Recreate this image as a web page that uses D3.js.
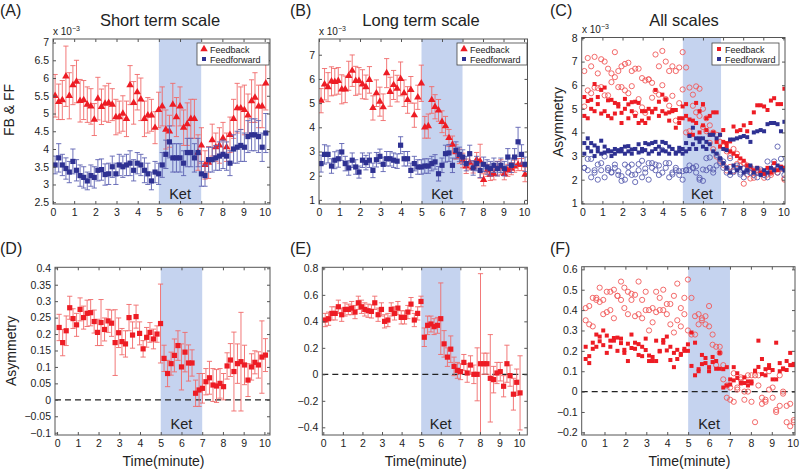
<!DOCTYPE html>
<html><head><meta charset="utf-8">
<script src="https://cdn.jsdelivr.net/npm/d3@7"></script>
<style>body{margin:0;background:#fff}svg{display:block;font-family:"Liberation Sans",Arial,sans-serif}</style>
</head><body><svg id="c" width="800" height="471"></svg>
<script>
// ---- time bins (minutes) ----
const times = [0.10,0.27,0.44,0.61,0.77,0.94,1.11,1.28,1.45,1.62,1.79,1.95,2.12,2.29,2.46,2.63,2.80,2.97,3.13,3.30,3.47,3.64,3.81,3.98,4.15,4.32,4.48,4.65,4.82,4.99,5.16,5.33,5.50,5.66,5.83,6.00,6.17,6.34,6.51,6.68,6.85,7.01,7.18,7.35,7.52,7.69,7.86,8.03,8.20,8.36,8.53,8.70,8.87,9.04,9.21,9.38,9.54,9.71,9.88,10.05];

// ---- (A) short term scale, x1e-3 ----
const aRed = [5.5,5.33,5.38,6.05,5.5,5.8, 5.9,5.36,5.38,5.25,5.2,4.83, 5.42,5.19,5.28,5.3,5.25,4.9, 4.9,5.0,4.85,5.8,5.3,5.6, 5.4,4.85,4.95,4.95,4.6,5.1, 5.2,4.55,4.5,5.25,4.9,5.2, 4.6,4.7,4.85,4.85,3.9,4.1, 3.55,3.62,4.25,4.05,4.1,4.3, 4.05,4.4,4.85,5.15,5.15,5.1, 4.95,5.35,5.45,5.2,5.2,5.85];
const aRedErr = [0.6,0.5,0.55,0.85,0.65,0.55, 0.6,0.6,0.55,0.5,0.5,0.45, 0.6,0.5,0.5,0.55,0.45,0.5, 0.45,0.5,0.5,0.55,0.6,0.5, 0.6,0.5,0.5,0.45,0.45,0.5, 0.55,0.55,0.45,0.6,0.55,0.55, 0.5,0.6,0.55,0.55,0.5,0.5, 0.4,0.45,0.45,0.4,0.5,0.45, 0.4,0.5,0.55,0.7,0.6,0.7, 0.6,0.6,0.7,0.6,0.6,0.75];
const aBlue = [3.55,3.75,3.55,3.45,3.35,3.65, 3.4,3.25,3.2,3.1,3.25,3.2, 3.4,3.42,3.28,3.3,3.5,3.3, 3.55,3.5,3.55,3.6,3.4,3.6, 3.55,3.4,3.3,3.1,3.35,3.3, 3.55,3.85,4.2,3.75,3.75,3.75, 3.6,3.9,3.9,3.75,3.9,3.3, 3.25,3.7,3.7,3.75,3.8,3.85, 3.8,3.6,4.0,4.05,4.1,4.05, 4.35,4.4,4.4,4.35,4.05,4.45];
const aBlueErr = [0.25,0.4,0.3,0.3,0.3,0.35, 0.3,0.3,0.3,0.25,0.3,0.3, 0.3,0.3,0.3,0.3,0.3,0.3, 0.3,0.3,0.3,0.35,0.3,0.3, 0.3,0.35,0.3,0.25,0.3,0.3, 0.35,0.4,0.45,0.4,0.4,0.4, 0.35,0.4,0.4,0.4,0.4,0.35, 0.3,0.35,0.35,0.35,0.4,0.4, 0.4,0.35,0.4,0.45,0.45,0.4, 0.45,0.45,0.45,0.45,0.4,0.55];

// ---- (B) long term scale, x1e-3 ----
const bRed = [5.1,5.78,5.66,5.9,5.88,5.92, 5.57,5.57,6.13,6.34,5.92,5.92, 5.78,5.66,5.96,4.8,5.41,5.06, 4.83,6.24,5.47,5.75,5.6,6.0, 5.41,5.13,5.55,4.5,5.24,5.82, 4.0,4.05,5.13,4.85,4.7,4.23, 4.05,3.56,3.29,2.98,2.8,2.63, 2.39,2.54,2.36,2.66,2.6,1.83, 2.22,2.05,2.08,2.29,2.36,2.08, 2.22,2.29,2.39,2.46,2.46,2.05];
const bRedErr = [0.5,0.65,0.6,0.6,0.55,0.55, 0.6,0.55,0.6,0.65,0.6,0.55, 0.6,0.5,0.55,0.5,0.55,0.6, 0.55,0.6,0.6,0.6,0.55,0.7, 0.55,0.55,0.55,0.5,0.5,0.75, 0.45,0.5,0.55,0.5,0.45,0.45, 0.4,0.35,0.35,0.3,0.3,0.3, 0.3,0.3,0.25,0.3,0.7,0.25, 0.25,0.25,0.25,0.3,0.3,0.25, 0.25,0.25,0.25,0.25,0.25,0.3];
const bBlue = [2.5,2.88,2.88,2.4,2.64,2.7, 2.98,2.5,2.32,2.64,2.36,2.15, 2.64,2.54,2.64,2.22,2.66,2.8, 2.47,2.7,2.7,2.64,2.6,3.26, 2.7,2.7,2.22,2.5,2.36,2.36, 2.4,2.4,2.5,2.57,2.08,2.43, 2.91,2.94,2.43,3.05,2.88,2.77, 2.5,2.91,2.32,2.5,2.22,2.47, 2.36,2.29,2.43,2.29,2.43,2.29, 2.77,2.43,2.77,3.4,2.88,2.47];
const bBlueErr = [0.35,0.4,0.35,0.3,0.35,0.35, 0.35,0.3,0.3,0.3,0.3,0.25, 0.3,0.3,0.3,0.3,0.3,0.3, 0.3,0.3,0.3,0.3,0.3,0.35, 0.3,0.3,0.3,0.3,0.3,0.3, 0.3,0.3,0.3,0.3,0.3,0.3, 0.35,0.35,0.3,0.35,0.3,0.3, 0.3,0.35,0.3,0.3,0.3,0.3, 0.3,0.3,0.3,0.3,0.3,0.3, 0.35,0.3,0.35,0.6,0.4,0.3];

// ---- (C) all scales, extra scales, x1e-3 ----
const cRedFilled2 = [4.7,4.6,5.0,4.9,5.2,4.8, 4.9,4.7,4.6,4.8,5.1,4.4, 5.0,4.6,4.9,4.7,4.4,4.5, 4.4,4.6,4.9,5.0,4.7,4.9, 4.8,4.5,4.9,4.2,4.4,4.6, 4.7,3.9,3.9,4.4,4.0,4.3, 4.1,3.9,4.0,3.6,3.4,3.6, 3.4,3.2,3.1,3.0,2.9,2.8, 2.6,2.55,2.4,2.5,2.3,2.25, 2.5,2.3,2.7,2.4,2.55,2.5];
const cRedOpenHi = [6.6,7.15,6.8,7.2,6.5,7.1, 7.0,6.7,6.5,7.4,6.6,6.8, 6.9,6.95,6.6,6.7,6.7,6.3, 6.2,6.25,6.1,7.3,6.8,7.45, 7.0,6.6,6.8,6.6,6.75,7.4, 6.75,5.9,5.6,5.95,5.85,5.0, 4.6,4.3,4.0,3.9,3.6,3.4, 3.2,3.0,3.3,3.1,2.8,2.7, 2.6,2.5,2.3,2.4,2.3,2.2, 2.4,2.2,2.6,2.3,2.5,2.0];
const cBlueFilled2 = [3.1,3.35,3.2,3.0,3.2,3.1, 3.15,3.2,3.0,3.3,3.2,3.3, 3.1,3.2,3.1,3.3,3.15,3.2, 3.25,3.1,3.2,3.3,3.1,3.25, 3.2,3.1,3.3,3.15,3.2,3.1, 3.2,3.3,3.5,3.3,3.6,3.4, 3.3,3.5,3.2,3.1,2.9,2.7, 2.5,2.3,2.6,2.4,2.5,2.3, 2.4,2.6,2.3,2.5,2.2,2.4, 2.3,2.5,2.4,2.6,2.5,2.4];
const cBlueOpenLo = [2.5,2.4,2.1,2.3,2.0,2.4, 2.1,2.4,2.3,2.5,2.2,1.95, 2.0,2.3,2.2,1.9,2.4,2.1, 2.3,2.0,2.5,2.4,2.2,2.3, 2.5,2.1,2.3,2.4,2.2,2.0, 2.4,2.6,2.5,2.3,2.0,1.95, 2.4,2.5,2.3,2.6,2.7,2.5, 2.3,2.2,2.4,2.6,2.3,2.1, 2.4,2.3,2.2,2.1,2.3,2.2, 2.1,2.4,2.6,2.3,2.5,2.2];

// ---- (D) short term asymmetry ----
const dAsym = [0.22,0.174,0.21,0.28,0.247,0.228, 0.275,0.25,0.263,0.265,0.238,0.205, 0.235,0.214,0.24,0.233,0.174,0.204, 0.177,0.17,0.25,0.197,0.253,0.202, 0.155,0.19,0.205,0.185,0.2,0.232, 0.126,0.08,0.11,0.135,0.165,0.1, 0.145,0.112,0.112,0.02,0.03,0.035, 0.055,0.067,0.045,0.042,0.05,0.04, 0.103,0.121,0.086,0.11,0.116,0.106, 0.06,0.1,0.114,0.106,0.13,0.136];
const dErr = [0.04,0.04,0.045,0.035,0.03,0.035, 0.035,0.035,0.04,0.04,0.035,0.04, 0.07,0.035,0.035,0.04,0.1,0.045, 0.04,0.04,0.04,0.04,0.035,0.035, 0.025,0.03,0.03,0.03,0.025,0.12, 0.04,0.04,0.035,0.05,0.045,0.07, 0.06,0.055,0.04,0.04,0.05,0.045, 0.04,0.05,0.05,0.05,0.045,0.04, 0.04,0.05,0.12,0.06,0.15,0.06, 0.05,0.04,0.035,0.04,0.11,0.05];

// ---- (E) long term asymmetry ----
const eAsym = [0.41,0.42,0.46,0.46,0.51,0.45, 0.49,0.49,0.5,0.47,0.54,0.51, 0.49,0.48,0.475,0.54,0.45,0.49, 0.4,0.41,0.49,0.46,0.5,0.43, 0.43,0.47,0.53,0.41,0.46,0.55, 0.28,0.37,0.38,0.36,0.37,0.42, 0.23,0.13,0.19,0.06,0.03,0.02, 0.09,0.01,0.07,0.0,0.0,0.08, 0.08,0.08,-0.03,-0.04,0.01,0.02, -0.09,0.08,-0.01,-0.15,-0.06,-0.14];
const eErr = [0.05,0.05,0.05,0.05,0.05,0.05, 0.05,0.04,0.05,0.05,0.05,0.05, 0.05,0.05,0.05,0.05,0.05,0.05, 0.05,0.05,0.05,0.05,0.05,0.05, 0.05,0.05,0.05,0.05,0.05,0.04, 0.07,0.07,0.06,0.06,0.06,0.27, 0.1,0.07,0.1,0.07,0.06,0.06, 0.06,0.07,0.07,0.07,0.2,0.68, 0.08,0.08,0.33,0.1,0.08,0.07, 0.08,0.14,0.08,0.12,0.1,0.28];

// ---- (F) all scales asymmetry, extra scales ----
const fFilled2 = [0.16,0.14,0.24,0.22,0.27,0.3, 0.19,0.22,0.25,0.2,0.26,0.19, 0.15,0.28,0.21,0.18,0.22,0.26, 0.15,0.15,0.15,0.2,0.24,0.27, 0.22,0.12,0.16,0.18,0.21,0.2, 0.29,0.24,0.1,0.18,0.14,0.12, 0.17,0.15,0.19,0.11,0.12,0.06, 0.12,0.09,0.04,0.07,0.03,0.05, 0.1,0.25,0.16,0.08,0.13,0.06, 0.24,0.14,0.11,0.15,0.19,0.13];
const fOpen2 = [0.35,0.33,0.32,0.45,0.44,0.38, 0.39,0.4,0.36,0.47,0.45,0.41, 0.38,0.45,0.37,0.38,0.36,0.4, 0.3,0.34,0.39,0.4,0.4,0.38, 0.33,0.29,0.35,0.32,0.38,0.3, 0.46,0.28,0.33,0.35,0.33,0.32, 0.28,0.22,0.22,0.13,-0.03,-0.04, -0.05,0.02,0.06,-0.04,0.08,-0.05, -0.15,0.03,-0.06,-0.05,0.1,-0.03, -0.1,-0.07,0.0,-0.07,-0.17,-0.15];

// ---- tick labels ----
const xTicks = [0,1,2,3,4,5,6,7,8,9,10];
const yTicksA = [2.5,3,3.5,4,4.5,5,5.5,6,6.5,7];
const yTicksB = [1,2,3,4,5,6,7];
const yTicksC = [1,2,3,4,5,6,7,8];
const yTicksD = [-0.1,-0.05,0,0.05,0.1,0.15,0.2,0.25,0.3,0.35,0.4];
const yTicksE = [-0.4,-0.2,0,0.2,0.4,0.6,0.8];
const yTicksF = [-0.2,-0.1,0,0.1,0.2,0.3,0.4,0.5,0.6];

// ---- styles ----
const RED = "#ed1c24", RED_ERR = "#f06a6a", RED_OPEN = "#f05a5a";
const BLUE = "#2e3192", BLUE_ERR = "#5e62b2", BLUE_OPEN = "#5a5fb0";
const SHADE = "#c5d3ef", FRAME = "#555", TXT = "#222";

const svg = d3.select("#c");
const fmt = d => String(+d.toFixed(2)).replace("-", "\u2212");

const legendFB = [{t:"Feedback", m:"tri", c:RED},{t:"Feedforward", m:"sq", c:BLUE}];
const legendC = [{t:"Feedback", m:"sq", c:RED},{t:"Feedforward", m:"sq", c:BLUE}];

const panels = [
  {id:"A", title:"Short term scale", tx:160, lx:0, ly:16, x:[53,270], y:[204,39], xd:[0,10.25], yd:[2.45,7.1], yt:yTicksA, shade:[5,7], ket:199, expo:[53,35],
   ylab:"FB & FF", ylx:14, yly:110, legend:{x:197,y:43,w:72,h:22,items:legendFB},
   series:[{v:aRed,e:aRedErr,c:RED,ec:RED_ERR,m:"tri"},{v:aBlue,e:aBlueErr,c:BLUE,ec:BLUE_ERR,m:"sq"}]},
  {id:"B", title:"Long term scale", tx:421, lx:290, ly:16, x:[319,527.5], y:[204,39], xd:[0,10.17], yd:[0.83,7.65], yt:yTicksB, shade:[5,7], ket:199, expo:[319,35],
   legend:{x:457,y:43,w:70,h:22,items:legendFB},
   series:[{v:bRed,e:bRedErr,c:RED,ec:RED_ERR,m:"tri"},{v:bBlue,e:bBlueErr,c:BLUE,ec:BLUE_ERR,m:"sq"}]},
  {id:"C", title:"All scales", tx:684, lx:550, ly:16, x:[581.7,785], y:[204,37.5], xd:[-0.03,10.08], yd:[0.97,8.02], yt:yTicksC, shade:[5,6.9], ket:199, expo:[582,33],
   ylab:"Asymmetry", ylx:563, yly:122, legend:{x:712,y:43,w:67,h:22,items:legendC},
   series:[{v:cRedOpenHi,c:RED_OPEN,m:"circ"},{v:bRed,c:RED_OPEN,m:"circ"},{v:bBlue,c:BLUE_OPEN,m:"circ"},{v:cBlueOpenLo,c:BLUE_OPEN,m:"circ"},
           {v:cRedFilled2,c:RED,m:"dot"},{v:aRed,c:RED,m:"dot"},{v:cBlueFilled2,c:BLUE,m:"dot"},{v:aBlue,c:BLUE,m:"dot"}]},
  {id:"D", lx:0, ly:254, x:[55,270], y:[435,267.3], xd:[-0.1,10.27], yd:[-0.107,0.403], yt:yTicksD, shade:[5,7], ket:429, zero:true,
   ylab:"Asymmetry", ylx:16, yly:351, xlab:true,
   series:[{v:dAsym,e:dErr,c:RED,ec:RED_ERR,m:"sq"}]},
  {id:"E", lx:290, ly:254, x:[322.3,527.3], y:[435,267.3], xd:[-0.05,10.42], yd:[-0.458,0.808], yt:yTicksE, shade:[5,7], ket:429, zero:true, xlab:true,
   series:[{v:eAsym,e:eErr,c:RED,ec:RED_ERR,m:"sq"}]},
  {id:"F", lx:550, ly:254, x:[581.7,795], y:[435,266.7], xd:[-0.09,10.11], yd:[-0.213,0.613], yt:yTicksF, shade:[5,7], ket:429, zero:true, xlab:true,
   series:[{v:eAsym,c:RED_OPEN,m:"circ"},{v:fOpen2,c:RED_OPEN,m:"circ"},{v:dAsym,c:RED,m:"dot"},{v:fFilled2,c:RED,m:"dot"}]}
];

function marker(sel, m, c){
  if(m==="tri") sel.append("path").attr("d", d3.symbol(d3.symbolTriangle, 24)()).attr("fill", c);
  else if(m==="sq") sel.append("rect").attr("x",-2.6).attr("y",-2.6).attr("width",5.2).attr("height",5.2).attr("fill", c);
  else if(m==="dot") sel.append("rect").attr("x",-2).attr("y",-2).attr("width",4).attr("height",4).attr("fill", c);
  else sel.append("circle").attr("r",2.6).attr("fill","none").attr("stroke",c).attr("stroke-width",0.9);
}

panels.forEach(p => {
  const g = svg.append("g");
  const x = d3.scaleLinear().domain(p.xd).range(p.x);
  const y = d3.scaleLinear().domain(p.yd).range(p.y);
  const clipId = "clip" + p.id;
  svg.append("clipPath").attr("id", clipId).append("rect")
    .attr("x", p.x[0]).attr("y", p.y[1]).attr("width", p.x[1]-p.x[0]).attr("height", p.y[0]-p.y[1]);

  g.append("text").attr("x", p.lx).attr("y", p.ly).attr("font-size", 16).attr("fill", TXT).text("(" + p.id + ")");
  if(p.title) g.append("text").attr("x", p.tx).attr("y", 26).attr("text-anchor","middle").attr("font-size", 16.5).attr("fill", TXT).text(p.title);

  g.append("rect").attr("x", x(p.shade[0])).attr("width", x(p.shade[1]) - x(p.shade[0]))
    .attr("y", p.y[1]).attr("height", p.y[0]-p.y[1]).attr("fill", SHADE);
  g.append("text").attr("x", (x(p.shade[0]) + x(p.shade[1]))/2).attr("y", p.ket).attr("text-anchor","middle")
    .attr("font-size", 14.5).attr("fill", TXT).text("Ket");

  if(p.zero) g.append("line").attr("x1", p.x[0]).attr("x2", p.x[1]).attr("y1", y(0)).attr("y2", y(0))
    .attr("stroke", "#222").attr("stroke-width", 1.3).attr("stroke-dasharray", "6,4");

  const plot = g.append("g").attr("clip-path", `url(#${clipId})`);
  p.series.forEach(s => {
    const rows = s.v.map((v,i) => ({t: times[i], v, e: s.e ? s.e[i] : 0}));
    if(s.e){
      plot.append("g").selectAll("path").data(rows).join("path")
        .attr("d", d => {
          const xx = x(d.t), y1 = y(d.v + d.e), y2 = y(d.v - d.e);
          return `M${xx},${y1}V${y2}M${xx-2.6},${y1}H${xx+2.6}M${xx-2.6},${y2}H${xx+2.6}`;
        })
        .attr("stroke", s.ec).attr("stroke-width", 0.9).attr("fill","none");
    }
    plot.append("g").selectAll("g").data(rows).join("g")
      .attr("transform", d => `translate(${x(d.t)},${y(d.v)})`)
      .each(function(){ marker(d3.select(this), s.m, s.c); });
  });

  const ax = (gen, tr) => {
    const a = g.append("g").attr("transform", tr).call(gen);
    a.select(".domain").remove();
    a.selectAll("line").attr("stroke", FRAME);
    a.selectAll("text").attr("fill", TXT).attr("font-size", 10.5).attr("font-family", '"Liberation Sans",Arial,sans-serif');
    return a;
  };
  ax(d3.axisBottom(x).tickValues(xTicks).tickSize(-3).tickPadding(5).tickFormat(d3.format("d")), `translate(0,${p.y[0]})`);
  ax(d3.axisTop(x).tickValues(xTicks).tickSize(-3).tickFormat(""), `translate(0,${p.y[1]})`);
  ax(d3.axisLeft(y).tickValues(p.yt).tickSize(-3).tickPadding(4).tickFormat(fmt), `translate(${p.x[0]},0)`);
  ax(d3.axisRight(y).tickValues(p.yt).tickSize(-3).tickFormat(""), `translate(${p.x[1]},0)`);
  g.append("rect").attr("x", p.x[0]).attr("y", p.y[1]).attr("width", p.x[1]-p.x[0]).attr("height", p.y[0]-p.y[1])
    .attr("fill","none").attr("stroke", FRAME).attr("stroke-width", 1);

  if(p.expo){
    const t = g.append("text").attr("x", p.expo[0]).attr("y", p.expo[1]).attr("font-size", 10).attr("fill", TXT);
    t.append("tspan").text("x 10");
    t.append("tspan").attr("font-size", 7).attr("dy", -4).text("\u22123");
  }
  if(p.ylab){
    g.append("text").attr("transform", `translate(${p.ylx},${p.yly}) rotate(-90)`).attr("text-anchor","middle")
      .attr("font-size", 14).attr("fill", TXT).text(p.ylab);
  }
  if(p.xlab){
    g.append("text").attr("x", (p.x[0]+p.x[1])/2 + 1).attr("y", 466).attr("text-anchor","middle")
      .attr("font-size", 14).attr("fill", TXT).text("Time(minute)");
  }
  if(p.legend){
    const L = p.legend;
    const lg = g.append("g").attr("transform", `translate(${L.x},${L.y})`);
    lg.append("rect").attr("width", L.w).attr("height", L.h).attr("fill","#fff").attr("stroke", "#444").attr("stroke-width", 0.8);
    L.items.forEach((it, i) => {
      const row = lg.append("g").attr("transform", `translate(7,${6 + i*10})`);
      marker(row, it.m === "tri" ? "tri" : "dot", it.c);
      lg.append("text").attr("x", 13).attr("y", 9.5 + i*10).attr("font-size", 9).attr("fill", TXT).text(it.t);
    });
  }
});
</script>
</body></html>
